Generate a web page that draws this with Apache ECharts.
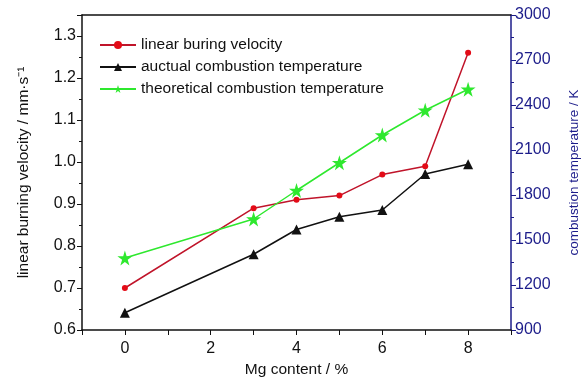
<!DOCTYPE html>
<html>
<head>
<meta charset="utf-8">
<script src="https://cdn.jsdelivr.net/npm/echarts@6/dist/echarts.min.js"></script>
<style>
  html, body { margin: 0; padding: 0; background: #fff; }
  #chart { width: 586px; height: 377px; }
</style>
</head>
<body>
<div id="chart"></div>
<script>
const mgContent = [0, 3, 4, 5, 6, 7, 8]
const burningVelocity = [0.70, 0.89, 0.91, 0.92, 0.97, 0.99, 1.26]
const actualTemp = [1015, 1405, 1570, 1655, 1700, 1940, 2005]
const theoreticalTemp = [1380, 1640, 1830, 2015, 2200, 2365, 2505]

const seriesNames = [
  'linear buring velocity',
  'auctual combustion temperature',
  'theoretical combustion temperature'
]

const pairs = vals => mgContent.map((x, i) => [x, vals[i]])

const chart = echarts.init(document.getElementById('chart'))
const font = 'Liberation Sans, Arial, sans-serif'
const navy = '#1c1c8a'

const option = {
  backgroundColor: '#fff',
  animation: false,
  textStyle: { fontFamily: font },
  grid: { left: 82, right: 75, top: 15, bottom: 47, outerBoundsMode: 'none' },
  legend: {
    orient: 'vertical',
    left: 94,
    top: 32,
    itemWidth: 36,
    itemHeight: 10,
    itemGap: 6,
    data: seriesNames,
    textStyle: { fontFamily: font, fontSize: 15.5, color: '#111' }
  },
  xAxis: [
    {
      type: 'value',
      min: -1,
      max: 9,
      interval: 1,
      name: 'Mg content / %',
      nameLocation: 'middle',
      nameGap: 30,
      nameTextStyle: { fontSize: 15.5, color: '#111' },
      axisLine: { onZero: false, lineStyle: { color: '#111', width: 1.5 } },
      axisTick: { inside: false, length: 5, lineStyle: { color: '#111' } },
      axisLabel: {
        fontSize: 16,
        color: '#111',
        margin: 11,
        formatter: v => (v % 2 === 0 ? String(v) : '')
      },
      splitLine: { show: false }
    },
    {
      type: 'value',
      position: 'top',
      min: -1,
      max: 9,
      axisLine: { onZero: false, lineStyle: { color: '#111', width: 1.5 } },
      axisTick: { show: false },
      axisLabel: { show: false },
      splitLine: { show: false }
    }
  ],
  yAxis: [
    {
      type: 'value',
      min: 0.6,
      max: 1.35,
      interval: 0.1,
      name: 'linear burning velocity / mm·s⁻¹',
      nameLocation: 'middle',
      nameGap: 50,
      nameTextStyle: { fontSize: 15.5, color: '#111' },
      axisLine: { show: true, onZero: false, lineStyle: { color: '#111', width: 1.5 } },
      axisTick: { inside: false, length: 5, lineStyle: { color: '#111' } },
      minorTick: { show: true, splitNumber: 2, length: 3, lineStyle: { color: '#111' } },
      axisLabel: {
        fontSize: 16,
        color: '#111',
        margin: 6,
        showMaxLabel: false,
        formatter: v => v.toFixed(1)
      },
      splitLine: { show: false }
    },
    {
      type: 'value',
      position: 'right',
      min: 900,
      max: 3000,
      interval: 300,
      name: 'combustion temperature / K',
      nameLocation: 'middle',
      nameGap: 56,
      nameRotate: 90,
      nameTextStyle: { fontSize: 13.5, color: navy },
      axisLine: { show: true, onZero: false, lineStyle: { color: navy, width: 1.5 } },
      axisTick: { inside: false, length: 5, lineStyle: { color: navy } },
      minorTick: { show: true, splitNumber: 2, length: 3, lineStyle: { color: navy } },
      axisLabel: { fontSize: 16, color: navy, margin: 4, formatter: v => String(v) },
      splitLine: { show: false }
    }
  ],
  series: [
    {
      name: seriesNames[0],
      type: 'line',
      yAxisIndex: 0,
      data: pairs(burningVelocity),
      symbol: 'circle',
      symbolSize: 6,
      lineStyle: { color: '#c0142a', width: 1.5 },
      itemStyle: { color: '#e30b17' }
    },
    {
      name: seriesNames[1],
      type: 'line',
      yAxisIndex: 1,
      data: pairs(actualTemp),
      symbol: 'triangle',
      symbolSize: 10,
      lineStyle: { color: '#111', width: 1.5 },
      itemStyle: { color: '#111' }
    },
    {
      name: seriesNames[2],
      type: 'line',
      yAxisIndex: 1,
      data: pairs(theoreticalTemp),
      symbol: 'path://M50,0 L61,35 L98,35 L68,57 L79,92 L50,70 L21,92 L32,57 L2,35 L39,35 Z',
      symbolSize: 15,
      lineStyle: { color: '#2ee82e', width: 1.5 },
      itemStyle: { color: '#2ee82e' }
    }
  ]
}

chart.setOption(option)
</script>
</body>
</html>
